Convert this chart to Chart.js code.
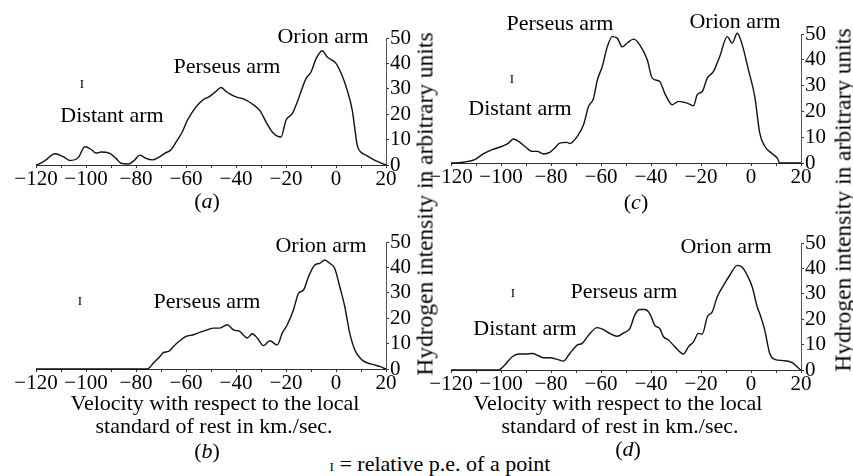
<!DOCTYPE html>
<html>
<head>
<meta charset="utf-8">
<script src="https://cdn.jsdelivr.net/npm/chart.js@4.4.1/dist/chart.umd.min.js"></script>
<style>
  body { margin: 0; background: #fff; }
  #page { position: relative; width: 853px; height: 476px; overflow: hidden; background: #fff; }
  canvas { position: absolute; }
  .t { position: absolute; font-family: "Liberation Serif", serif; font-size: 22px; line-height: 22px;
       color: #000; white-space: nowrap; transform: translateX(-50%); }
  .pe { position: absolute; font-family: "Liberation Serif", serif; font-size: 13px; line-height: 13px;
        color: #000; transform: translate(-50%, -50%); }
  .ytitle { position: absolute; font-family: "Liberation Serif", serif; font-size: 23.5px; color: #000;
            white-space: nowrap; transform: translate(-50%, -50%) rotate(-90deg); }
</style>
</head>
<body>
<div id="page">
  <canvas id="chartA" width="416" height="175" style="left:0px;top:20px"></canvas>
  <canvas id="chartC" width="416" height="177" style="left:415px;top:16px"></canvas>
  <canvas id="chartB" width="416" height="175" style="left:0px;top:224px"></canvas>
  <canvas id="chartD" width="416" height="175" style="left:415px;top:225px"></canvas>

  <!-- arm labels -->
  <div class="t" style="left:112px;top:104px">Distant arm</div>
  <div class="t" style="left:227px;top:55px">Perseus arm</div>
  <div class="t" style="left:323px;top:25px">Orion arm</div>

  <div class="t" style="left:520px;top:97px">Distant arm</div>
  <div class="t" style="left:560px;top:12px">Perseus arm</div>
  <div class="t" style="left:735px;top:10px">Orion arm</div>

  <div class="t" style="left:207px;top:290px">Perseus arm</div>
  <div class="t" style="left:321px;top:234px">Orion arm</div>

  <div class="t" style="left:525px;top:317px">Distant arm</div>
  <div class="t" style="left:624px;top:280px">Perseus arm</div>
  <div class="t" style="left:726px;top:235px">Orion arm</div>

  <!-- p.e. markers -->
  <div class="pe" style="left:82px;top:83px">I</div>
  <div class="pe" style="left:512px;top:78px">I</div>
  <div class="pe" style="left:80px;top:300px">I</div>
  <div class="pe" style="left:513px;top:292px">I</div>

  <!-- captions -->
  <div class="t" style="left:207px;top:190px">(<i>a</i>)</div>
  <div class="t" style="left:636px;top:191px">(<i>c</i>)</div>
  <div class="t" style="left:207px;top:440px">(<i>b</i>)</div>
  <div class="t" style="left:628px;top:438px">(<i>d</i>)</div>

  <!-- x axis titles -->
  <div class="t" style="left:215px;top:392px">Velocity with respect to the local</div>
  <div class="t" style="left:214px;top:415px">standard of rest in km./sec.</div>
  <div class="t" style="left:618px;top:392px">Velocity with respect to the local</div>
  <div class="t" style="left:620px;top:415px">standard of rest in km./sec.</div>

  <!-- y axis titles -->
  <div class="ytitle" style="left:425px;top:204px">Hydrogen intensity in arbitrary units</div>
  <div class="ytitle" style="left:843px;top:200px">Hydrogen intensity in arbitrary units</div>

  <div class="t" style="left:440px;top:453px"><span style="font-size:13px">I</span> = relative p.e. of a point</div>
</div>

<script>
// data
const velA = [-120, -118.5, -116, -112.5, -109, -106.5, -103, -100.5, -98, -96, -94, -90.5, -88, -86, -83, -80.5, -78.5, -76, -73.5, -71, -68.5, -66, -64, -61.5, -59.5, -57, -55, -53, -50.5, -48, -46, -44, -42.5, -40, -37, -33.5, -30.5, -28, -25.5, -22, -20, -17.5, -15.5, -12, -10, -8, -5.5, -3.5, 0, 2.5, 4.5, 6.5, 8.5, 10, 12, 16, 19.5, 20];
const intA = [0, 0.5, 2, 4.4, 3.2, 1.8, 3, 7.2, 6.2, 4.7, 5.1, 4.6, 2.6, 0.7, 0.4, 2, 3.9, 2.6, 2, 3, 4.6, 6, 9, 13, 17.5, 21.5, 24, 25.8, 27, 29, 30.5, 29, 28, 26.8, 26, 24, 21.5, 17, 13, 11, 17.6, 20.2, 24.8, 34, 36.6, 41.8, 45, 42.5, 40, 35, 29.4, 21.6, 7.8, 5, 3.9, 1.6, 0.2, 0];

const velB = [-120, -75.5, -73, -71, -69, -67, -65, -62.5, -60, -57, -54.5, -51.5, -49, -46.5, -43.5, -41, -38.5, -35.5, -33.5, -31.5, -29, -26.5, -23.5, -21.5, -19.5, -17, -15, -13, -11, -8.5, -6.5, -4.5, -2.5, -0.5, 1.5, 3.5, 5.5, 7.5, 10, 12.5, 15, 17.5, 19.5, 20];
const intB = [0, 0, 2.4, 4.3, 6.5, 6.9, 8.9, 11.1, 12.8, 13.5, 14.4, 15.4, 16.1, 16.1, 17.4, 15.4, 14.8, 12.2, 13.9, 12.2, 9.2, 11.1, 9.5, 14.1, 17.4, 23.3, 29.8, 31.1, 36.3, 40.9, 41.6, 42.9, 41.6, 39.6, 32.4, 24.6, 14.1, 7.6, 3.9, 2.4, 1.7, 1, 0.2, 0];

const velC = [-120, -118.5, -114.5, -110.5, -107, -103.5, -99.5, -97, -95, -93, -90.5, -87.5, -85.5, -83, -80.5, -78.5, -76.5, -73.5, -72.5, -69.5, -67, -65, -63, -61.5, -59.5, -57.5, -55.5, -53.5, -51.5, -49.5, -47, -44.5, -41.5, -39.5, -36.5, -34.5, -31.5, -29, -25.5, -23, -21.5, -19.5, -17.5, -15, -12.5, -9.5, -7.5, -5.5, -3.5, -1, 1.5, 3.5, 5.5, 8.5, 10.5, 11.5, 20];
const intC = [0, 0, 0.4, 1.3, 3.6, 5.2, 6.5, 7.7, 9.3, 8.4, 6.5, 4.5, 4.5, 3.5, 4.1, 5.8, 7.7, 8, 7.5, 10.3, 14.8, 21.9, 25, 32, 37.4, 45, 49, 48.4, 45, 46.5, 48, 45.8, 40, 32.9, 31.6, 27, 22.6, 23.9, 23.2, 22.2, 26.5, 27.7, 32.9, 35.5, 41.3, 49, 46.5, 50.3, 45.8, 36, 25.8, 11.6, 6.5, 3.6, 1.9, 0, 0];

const velD = [-120, -101, -98.5, -95.5, -93, -90.5, -87.5, -85, -83, -80.5, -77.5, -75, -72.5, -69.5, -67.5, -65, -61.5, -59, -56.5, -53.5, -51, -48.5, -46.5, -44.5, -42.5, -40.5, -38.5, -36.5, -35, -33, -30.5, -27, -25, -23, -21, -19.5, -17.5, -15.5, -13.5, -11, -8.5, -5.5, -3.5, -1.5, 0.5, 2.5, 3.5, 5.5, 7.5, 9.5, 13, 16.5, 19.5, 20];
const intD = [0, 0, 2, 5.2, 6.3, 6.3, 6.5, 5.6, 4.8, 4.8, 4.2, 3.5, 6.5, 9.8, 10.5, 13.7, 16.7, 15.9, 14.4, 13.3, 14.6, 16.3, 21.6, 23.8, 23.8, 22.2, 17.6, 16.3, 13.1, 11.8, 9.2, 6.3, 9.2, 11.1, 14.4, 14.1, 20.9, 22.9, 28.8, 33.3, 37.3, 41.2, 40.5, 37.3, 32.7, 24.8, 22.2, 15.7, 6.5, 4.2, 3.7, 2.9, 0.3, 0];

const xTicks = [-120, -100, -80, -60, -40, -20, 0, 20];
const yTicks = [0, 10, 20, 30, 40, 50];

// config
const tickFont = { family: "Liberation Serif", size: 21 };

const panelConfig = (vel, inten) => ({
  type: "line",
  data: {
    datasets: [
      {
        data: vel.map((v, i) => ({ x: v, y: inten[i] })),
        borderColor: "#111",
        borderWidth: 1.4,
        pointRadius: 0,
        cubicInterpolationMode: "monotone",
        clip: false,
      },
    ],
  },
  options: {
    responsive: false,
    animation: false,
    layout: { padding: { left: 36, top: 18, right: 0, bottom: 0 } },
    plugins: { legend: { display: false }, tooltip: { enabled: false } },
    scales: {
      x: {
        type: "linear",
        min: -120,
        max: 20,
        border: { color: "#333", width: 1 },
        grid: { drawOnChartArea: false, tickLength: 3, color: "#333" },
        ticks: {
          stepSize: 10,
          autoSkip: false,
          maxRotation: 0,
          padding: -1,
          color: "#000",
          font: tickFont,
          callback: (v) => (xTicks.includes(v) ? (v < 0 ? "\u2212" + -v : "" + v) : ""),
        },
        afterFit: (scale) => {
          scale.height = 30;
        },
      },
      y: {
        position: "right",
        min: 0,
        max: 50,
        border: { color: "#555", width: 1 },
        grid: { drawOnChartArea: false, tickLength: 3, color: "#333" },
        ticks: {
          stepSize: 10,
          autoSkip: false,
          padding: 1,
          color: "#000",
          font: tickFont,
          callback: (v) => (yTicks.includes(v) ? "" + v : ""),
        },
        afterFit: (scale) => {
          scale.width = 30;
        },
      },
    },
  },
});

// render
new Chart(document.getElementById("chartA"), panelConfig(velA, intA));
new Chart(document.getElementById("chartB"), panelConfig(velB, intB));
new Chart(document.getElementById("chartC"), panelConfig(velC, intC));
new Chart(document.getElementById("chartD"), panelConfig(velD, intD));
</script>
</body>
</html>
